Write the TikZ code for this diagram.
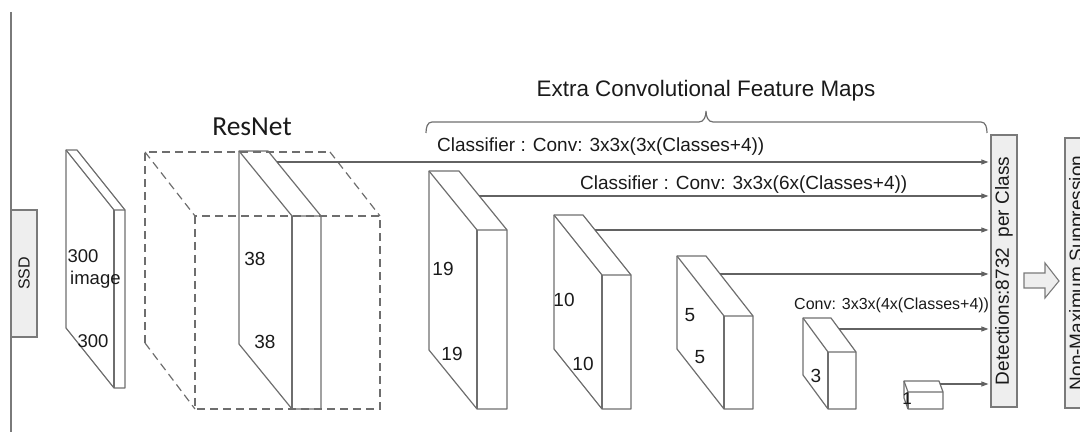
\documentclass[tikz,border=0pt]{standalone}
\usepackage{fontspec}
\setmainfont{Liberation Sans}
\newfontfamily\calibrifont{Carlito}
\usetikzlibrary{arrows.meta}
\definecolor{slabgray}{HTML}{6E6E6E}
\definecolor{linegray}{HTML}{626262}
\definecolor{boxfill}{HTML}{EEEEEE}
\definecolor{boxdraw}{HTML}{7A7A7A}
\definecolor{txt}{HTML}{1A1A1A}
\newcommand{\myslab}[6]{% x0 y0 w dx dy H
  \draw[slab] (#1,#2) -- ++(#3,0) -- ++(#4,#5) -- ++(0,#6) -- ++(-#3,0) -- ++(-#4,-#5) -- cycle;
  \draw[slab] (#1,#2) -- ++(#4,#5) -- ++(#3,0);
  \draw[slab] (#1,#2) ++(#4,#5) -- ++(0,#6);
}
\begin{document}
\begin{tikzpicture}[x=1pt,y=-1pt,
  slab/.style={draw=slabgray, line width=1.2pt, line join=round},
  dashcube/.style={draw=slabgray, line width=1.2pt, dash pattern=on 8pt off 5pt},
  conn/.style={draw=linegray, line width=1.1pt, -{Triangle[length=7pt,width=5pt]}, shorten >=2pt},
  sidebox/.style={draw=boxdraw, fill=boxfill, line width=1.2pt, rotate=90, inner sep=0pt, text=txt},
  dim/.style={text=txt, inner sep=0pt, font=\fontsize{19}{19}\selectfont},
  lab/.style={text=txt, inner sep=0pt, font=\fontsize{19}{19}\selectfont},
]
\useasboundingbox (0,0) rectangle (1080,435);
\clip (0,0) rectangle (1080,435);

% left rule
\draw[draw=boxdraw, line width=1.2pt] (11,12) -- (11,432);

% SSD box
\node[sidebox, minimum width=127pt, minimum height=26pt, font=\fontsize{16}{16}\selectfont] (ssd) at (24,273.5) {SSD};

% image slab
\myslab{66}{150}{11}{48}{60}{178}
\node[dim, font=\fontsize{18.5}{18.5}\selectfont] (t300a) at (83,256) {300};
\node[dim, font=\fontsize{18.5}{18.5}\selectfont, anchor=base west] (timage) at (70,285) {image};
\node[dim, font=\fontsize{18.5}{18.5}\selectfont] (t300b) at (93,341) {300};

% ResNet slab and dashed cube
\myslab{239}{151}{29}{53}{65}{193}
\draw[dashcube] (145,343) -- (145,152) -- (330,152);
\draw[dashcube] (145,152) -- (195,216);
\draw[dashcube] (330,152) -- (380,216);
\draw[dashcube] (145,343) -- (195,409);
\draw[dashcube] (195,216) rectangle (380,409);
\node[text=txt, inner sep=0pt, font=\calibrifont\fontsize{27.5}{27.5}\selectfont, anchor=base] (resnet) at (252,136) {ResNet};
\node[dim] (t38a) at (255,259) {38};
\node[dim] (t38b) at (265,342) {38};

% extra feature maps
\myslab{429}{171}{30}{48}{59}{179}
\node[dim] (t19a) at (443,269) {19};
\node[dim] (t19b) at (452,354) {19};

\myslab{554}{215}{29}{48}{60}{134}
\node[dim] (t10a) at (564,300) {10};
\node[dim] (t10b) at (583,364) {10};

\myslab{677}{256}{29}{47}{60}{93}
\node[dim] (t5a) at (690,315) {5};
\node[dim] (t5b) at (700,357) {5};

\myslab{803}{318}{28}{25}{34}{57}
\node[dim] (t3) at (816,376) {3};

\myslab{904}{381}{35}{4}{11}{17}
\node[dim, font=\fontsize{17}{17}\selectfont] (t1) at (907,399) {1};

% detections and NMS boxes
\node[sidebox, minimum width=272pt, minimum height=26pt, font=\fontsize{19}{19}\selectfont] (det) at (1004,271) {Detections:8732\ \ per Class};
\node[sidebox, minimum width=270pt, minimum height=26pt, font=\fontsize{19}{19}\selectfont] (nms) at (1078,273) {Non-Maximum Suppression};

% hollow arrow
\draw[draw=boxdraw, fill=boxfill, line width=1.1pt, line join=miter]
  (1024,273) -- (1045,273) -- (1045,263) -- (1059,281) -- (1045,298) -- (1045,288) -- (1024,288) -- cycle;

% connectors
\coordinate (sR) at (277,162);
\coordinate (s19) at (479,196);
\coordinate (s10) at (595,230);
\coordinate (s5) at (720,274);
\coordinate (s3) at (839,329);
\coordinate (s1) at (940,384);
\foreach \s in {sR,s19,s10,s5,s3,s1}
  \draw[conn] (\s) -- (\s -| det.north);

% labels
\node[lab, anchor=base west] (lab1) at (437,152) {Classifier : Conv: 3x3x(3x(Classes+4))};
\node[lab, anchor=base west] (lab2) at (580,190) {Classifier : Conv: 3x3x(6x(Classes+4))};
\node[lab, anchor=base west, font=\fontsize{16}{16}\selectfont] (lab3) at (794,310) {Conv: 3x3x(4x(Classes+4))};

% brace and title
\draw[draw=slabgray, line width=1.2pt] (426,133) to[out=90,in=180] (432,122) -- (699,122)
  to[out=0,in=-90] (706,111) to[out=-90,in=180] (713,122) -- (981,122) to[out=0,in=90] (987,133);
\node[text=txt, inner sep=0pt, anchor=base, font=\fontsize{22.4}{22.4}\selectfont] (title) at (706,97) {Extra Convolutional Feature Maps};
\end{tikzpicture}
\end{document}
